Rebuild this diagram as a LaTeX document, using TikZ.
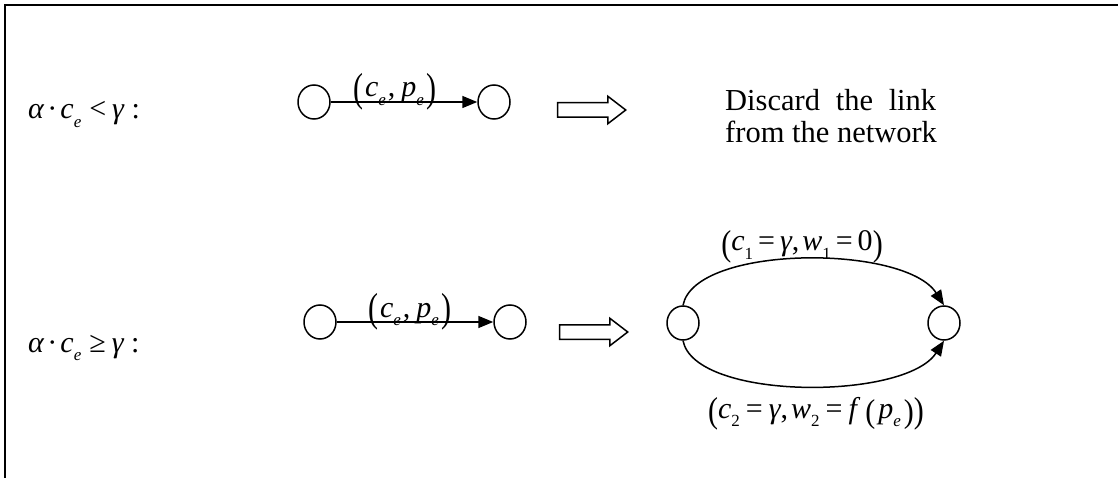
\documentclass[tikz,border=0pt]{standalone}
\usepackage{fontspec}
\setmainfont{Liberation Serif}
\usepackage{graphicx}
\usetikzlibrary{arrows.meta,shapes.geometric,shapes.arrows}
\newcommand\iv[1]{\textit{#1}}
\newcommand\sbx[1]{\raisebox{-0.28em}{\fontsize{17}{17}\selectfont\textit{#1}}}
\newcommand\sbn[1]{\raisebox{-0.28em}{\fontsize{17}{17}\selectfont #1}}
\newcommand\lpar[1]{\raisebox{-0.14em}{\scalebox{1}[#1]{(}}}
\newcommand\rpar[1]{\raisebox{-0.14em}{\scalebox{1}[#1]{)}}}
\newcommand\gap[1]{\hspace{#1pt}}
\tikzset{
  nd/.style={draw, line width=1.5pt, ellipse, minimum width=32pt, minimum height=34pt, inner sep=0pt},
  lnk/.style={line width=1.5pt, -{Triangle[length=15pt,width=12pt]}},
  mth/.style={font=\fontsize{30}{34}\selectfont, inner sep=0pt},
  txt/.style={font=\fontsize{30.5}{32}\selectfont, inner sep=0pt},
  hollow/.style={draw, line width=1.5pt, single arrow, minimum height=68pt,
    inner xsep=0pt, inner ysep=6.5pt, single arrow head extend=6.5pt, single arrow tip angle=75},
}
\begin{document}
\begin{tikzpicture}[x=1pt,y=-1pt]
\useasboundingbox (0,0) rectangle (1118,478);
\draw[line width=1.5pt] (5,478) -- (5,5) -- (1118,5);

% row 1
\node[mth, anchor=base west] (cond1) at (28,119) {\iv{α}\gap{3}·\gap{3}\iv{c}\sbx{e}\gap{8}<\gap{6}\iv{γ}\gap{7}:};
\node[nd] (a1) at (314,102) {};
\node[nd] (b1) at (494,102) {};
\draw[lnk] (a1) -- (b1);
\node[mth, anchor=base] (l1) at (395,97) {\lpar{1.35}\gap{2}\iv{c}\sbx{e}\gap{2},\gap{6}\iv{p}\sbx{e}\gap{3}\rpar{1.35}};
\node[hollow] (h1) at (587,110) {};
\node[txt, anchor=base west] (disc1) at (725,111) {\makebox[211pt][s]{Discard the link}};
\node[txt, anchor=base west] (disc2) at (725,143) {from the network};

% row 2
\node[mth, anchor=base west] (cond2) at (28,352) {\iv{α}\gap{3}·\gap{3}\iv{c}\sbx{e}\gap{8}≥\gap{6}\iv{γ}\gap{7}:};
\node[nd] (a2) at (320,322) {};
\node[nd] (b2) at (510,322) {};
\draw[lnk] (a2) -- (b2);
\node[mth, anchor=base] (l2) at (410,317) {\lpar{1.35}\gap{2}\iv{c}\sbx{e}\gap{2},\gap{6}\iv{p}\sbx{e}\gap{3}\rpar{1.35}};
\node[hollow] (h2) at (589,332) {};

\node[nd] (c) at (683,323) {};
\node[nd] (d) at (944,323) {};
\draw[lnk] (c.north) .. controls +(12,-61) and +(-39,-61) .. (d.north);
\draw[lnk] (c.south) .. controls +(12,60) and +(-39,60) .. (d.south);
\node[mth, anchor=base] (t1) at (802,251) {\lpar{1.2}\iv{c}\sbn{1}\gap{5}=\gap{5}\iv{γ},\gap{3}\iv{w}\sbn{1}\gap{5}=\gap{5}0\rpar{1.2}};
\node[mth, anchor=base] (t2) at (816,418) {\lpar{1.2}\iv{c}\sbn{2}\gap{6}=\gap{6}\iv{γ},\gap{3}\iv{w}\sbn{2}\gap{6}=\gap{6}\iv{f}\gap{5}\lpar{1.1}\gap{3}\iv{p}\sbx{e}\gap{3}\rpar{1.1}\rpar{1.2}};
\end{tikzpicture}
\end{document}
